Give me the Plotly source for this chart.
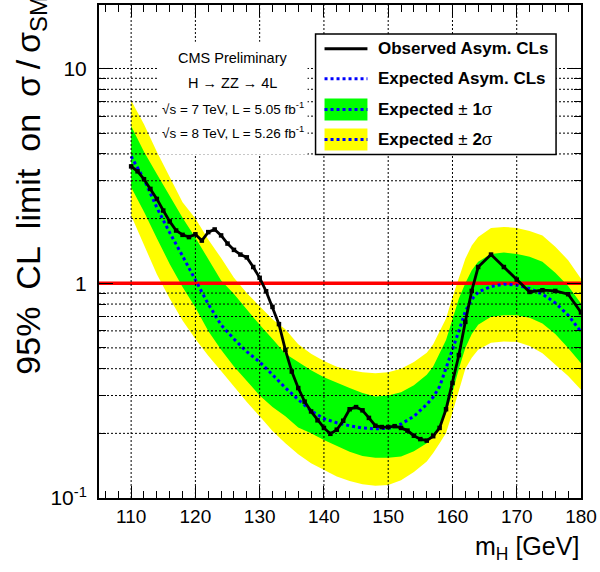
import plotly.graph_objects as go

# ---------------------------------------------------------------- data
# Higgs mass points (GeV) for the observed limit
mass_obs = [110, 111, 112, 113, 114, 115, 116, 117, 118, 119, 120, 121, 122, 123,
            124, 125, 126, 127, 128, 129, 130, 131, 132, 133, 134, 135, 136, 137,
            138, 139, 140, 141, 142, 143, 144, 145, 146, 147, 148, 149, 150, 151,
            152, 153, 154, 155, 156, 157, 158, 159, 160, 161, 162, 163, 164, 166,
            168, 170, 172, 174, 176, 178, 180]
observed = [3.50, 3.32, 3.05, 2.75, 2.47, 2.18, 1.94, 1.76, 1.68, 1.64, 1.69, 1.58,
            1.73, 1.78, 1.67, 1.53, 1.43, 1.36, 1.32, 1.19, 1.06, 0.918, 0.776,
            0.645, 0.489, 0.388, 0.325, 0.281, 0.253, 0.230, 0.212, 0.199, 0.208,
            0.229, 0.259, 0.265, 0.256, 0.236, 0.217, 0.214, 0.214, 0.216, 0.212,
            0.206, 0.195, 0.188, 0.185, 0.194, 0.212, 0.259, 0.343, 0.463, 0.661,
            0.921, 1.19, 1.36, 1.19, 1.04, 0.911, 0.928, 0.921, 0.889, 0.731]

# Mass points for the expected limit and its bands
mass_exp = [110, 112, 114, 116, 118, 120, 122, 124, 126, 128, 130, 132, 134, 136,
            138, 140, 142, 144, 146, 148, 150, 152, 154, 156, 157, 158, 159, 160,
            161, 162, 163, 164, 166, 168, 170, 172, 174, 176, 178, 180]
expected = [3.90, 3.05, 2.25, 1.72, 1.34, 1.03, 0.80, 0.64, 0.55, 0.48, 0.43, 0.375,
            0.326, 0.287, 0.255, 0.234, 0.224, 0.217, 0.212, 0.210, 0.211, 0.221,
            0.240, 0.273, 0.295, 0.33, 0.40, 0.49, 0.60, 0.74, 0.84, 0.91, 0.965,
            0.99, 0.98, 0.945, 0.89, 0.81, 0.71, 0.594]
exp_p1 = [5.40, 4.10, 3.23, 2.55, 2.02, 1.63, 1.30, 1.03, 0.89, 0.75, 0.64, 0.55,
          0.47, 0.43, 0.393, 0.365, 0.343, 0.325, 0.308, 0.297, 0.300, 0.311,
          0.335, 0.375, 0.41, 0.47, 0.544, 0.68, 0.85, 1.00, 1.15, 1.26, 1.37,
          1.39, 1.37, 1.33, 1.26, 1.12, 0.97, 0.805]
exp_m1 = [2.80, 2.15, 1.62, 1.23, 0.96, 0.77, 0.60, 0.49, 0.41, 0.35, 0.30, 0.265,
          0.24, 0.213, 0.200, 0.186, 0.174, 0.164, 0.157, 0.154, 0.154, 0.156,
          0.165, 0.180, 0.195, 0.215, 0.249, 0.31, 0.40, 0.50, 0.58, 0.64, 0.698,
          0.71, 0.71, 0.69, 0.65, 0.58, 0.50, 0.424]
exp_p2 = [7.10, 5.50, 4.10, 3.10, 2.38, 2.00, 1.60, 1.31, 1.06, 0.90, 0.78, 0.68,
          0.61, 0.52, 0.47, 0.435, 0.409, 0.395, 0.385, 0.381, 0.385, 0.400,
          0.43, 0.475, 0.52, 0.60, 0.686, 0.86, 1.07, 1.30, 1.50, 1.64, 1.81,
          1.83, 1.81, 1.75, 1.67, 1.48, 1.28, 1.05]
exp_m2 = [2.07, 1.50, 1.10, 0.85, 0.67, 0.55, 0.46, 0.39, 0.33, 0.28, 0.24, 0.205,
          0.18, 0.16, 0.145, 0.135, 0.126, 0.120, 0.116, 0.114, 0.115, 0.121,
          0.132, 0.148, 0.162, 0.180, 0.201, 0.25, 0.32, 0.40, 0.45, 0.49, 0.528,
          0.535, 0.534, 0.51, 0.472, 0.42, 0.37, 0.319]

sm_level = 1.0                      # sigma / sigma_SM = 1
x_range = [105, 180]
y_log_range = [-1, 1.2956]
x_ticks = [110, 120, 130, 140, 150, 160, 170, 180]
y_ticks = [0.1, 1, 10]
y_tick_text = ["10<sup>-1</sup>", "1", "10"]
y_minor = [0.2, 0.3, 0.4, 0.5, 0.6, 0.7, 0.8, 0.9,
           2, 3, 4, 5, 6, 7, 8, 9, 20]
x_grid = [110, 120, 130, 140, 150, 160, 170]
y_grid = [0.2, 0.3, 0.4, 0.5, 0.6, 0.7, 0.8, 0.9, 2, 3, 4, 5, 6, 7, 8, 9, 10]

legend_labels = ["<b>Observed Asym. CLs</b>", "<b>Expected Asym. CLs</b>",
                 "<b>Expected</b> ± <b>1</b>σ", "<b>Expected</b> ± <b>2</b>σ"]
info_lines = ["CMS Preliminary", "H → ZZ → 4L",
              "√s = 7 TeV, L = 5.05 fb<sup>-1</sup>",
              "√s = 8 TeV, L = 5.26 fb<sup>-1</sup>"]
EN = "\u2002"
TH = "\u2009"
y_title = ("95%" + EN + "CL" + EN + "limit" + EN + "on" + EN
           + "σ" + TH + "/" + TH + "σ<sub>SM</sub>")
x_title = "m<sub>H</sub> [GeV]"

# ---------------------------------------------------------------- styling
W, H = 600, 572
ML, MR, MT, MB = 99, 18, 3, 74
PW, PH = W - ML - MR, H - MT - MB
FONT = "Liberation Sans, Arial, Helvetica, sans-serif"
YELLOW, GREEN, BLUE = "#FFFF00", "#00FF00", "#0000FF"


def px(xp):
    return (xp - ML) / PW


def py(yp):
    return (MT + PH - yp) / PH


fig = go.Figure()

# +-2 sigma band
fig.add_trace(go.Scatter(x=mass_exp, y=exp_m2, mode="lines", line=dict(width=0),
                         showlegend=False, hoverinfo="skip"))
fig.add_trace(go.Scatter(x=mass_exp, y=exp_p2, mode="lines", line=dict(width=0),
                         fill="tonexty", fillcolor=YELLOW, showlegend=False))
# +-1 sigma band
fig.add_trace(go.Scatter(x=mass_exp, y=exp_m1, mode="lines", line=dict(width=0),
                         showlegend=False, hoverinfo="skip"))
fig.add_trace(go.Scatter(x=mass_exp, y=exp_p1, mode="lines", line=dict(width=0),
                         fill="tonexty", fillcolor=GREEN, showlegend=False))
# SM reference line
fig.add_trace(go.Scatter(x=x_range, y=[sm_level, sm_level], mode="lines",
                         line=dict(color="#FF0000", width=3.5), showlegend=False))
# expected median
fig.add_trace(go.Scatter(x=mass_exp, y=expected, mode="lines",
                         line=dict(color=BLUE, width=3, dash="dot"),
                         showlegend=False))
# observed
fig.add_trace(go.Scatter(x=mass_obs, y=observed, mode="lines+markers",
                         line=dict(color="black", width=2.8),
                         marker=dict(symbol="square", size=4.5, color="black"),
                         showlegend=False))

shapes = []
# dotted grid drawn over the bands
for xv in x_grid:
    shapes.append(dict(type="line", layer="above", xref="x", yref="y domain",
                       x0=xv, x1=xv, y0=0, y1=1,
                       line=dict(color="black", width=1, dash="2px,2px")))
for yv in y_grid:
    shapes.append(dict(type="line", layer="above", xref="x domain", yref="y",
                       x0=0, x1=1, y0=yv, y1=yv,
                       line=dict(color="black", width=1, dash="2px,2px")))

# white pad behind the info text
shapes.append(dict(type="rect", layer="above", xref="paper", yref="paper",
                   x0=px(158), x1=px(308), y0=py(153), y1=py(40),
                   fillcolor="white", line=dict(width=0)))

# legend box
shapes.append(dict(type="rect", layer="above", xref="paper", yref="paper",
                   x0=px(316), x1=px(557), y0=py(153), y1=py(32),
                   fillcolor="white", line=dict(color="black", width=1.5)))
row_y = [47, 77, 108, 138]
sx0, sx1 = 325, 368
shapes.append(dict(type="line", layer="above", xref="paper", yref="paper",
                   x0=px(sx0), x1=px(sx1), y0=py(row_y[0]), y1=py(row_y[0]),
                   line=dict(color="black", width=3)))
shapes.append(dict(type="line", layer="above", xref="paper", yref="paper",
                   x0=px(sx0), x1=px(sx1), y0=py(row_y[1]), y1=py(row_y[1]),
                   line=dict(color=BLUE, width=3, dash="dot")))
for ry, col in ((row_y[2], GREEN), (row_y[3], YELLOW)):
    shapes.append(dict(type="rect", layer="above", xref="paper", yref="paper",
                       x0=px(sx0), x1=px(sx1), y0=py(ry + 11), y1=py(ry - 11),
                       fillcolor=col, line=dict(width=0)))
    shapes.append(dict(type="line", layer="above", xref="paper", yref="paper",
                       x0=px(sx0), x1=px(sx1), y0=py(ry), y1=py(ry),
                       line=dict(color=BLUE, width=3, dash="dot")))

annotations = []
for lab, ry in zip(legend_labels, row_y):
    annotations.append(dict(text=lab, xref="paper", yref="paper",
                            x=px(377), y=py(ry), xanchor="left", yanchor="middle",
                            showarrow=False,
                            font=dict(family=FONT, size=17, color="black")))
info_y = [56, 81, 106, 131]
info_size = [14.5, 14.5, 13.5, 13.5]
for txt, ry, fs in zip(info_lines, info_y, info_size):
    annotations.append(dict(text=txt, xref="paper", yref="paper",
                            x=px(233), y=py(ry), xanchor="center", yanchor="middle",
                            showarrow=False,
                            font=dict(family=FONT, size=fs, color="black")))
# axis titles
annotations.append(dict(text=y_title, xref="paper", yref="paper",
                        x=px(30), y=py(-8), xanchor="center",
                        yanchor="top", textangle=-90, showarrow=False,
                        font=dict(family=FONT, size=34, color="black")))
annotations.append(dict(text=x_title, xref="paper", yref="paper",
                        x=px(582), y=py(548), xanchor="right", yanchor="middle",
                        showarrow=False,
                        font=dict(family=FONT, size=25, color="black")))

fig.update_layout(
    width=W, height=H,
    margin=dict(l=ML, r=MR, t=MT, b=MB),
    paper_bgcolor="white", plot_bgcolor="white",
    showlegend=False,
    shapes=shapes, annotations=annotations,
    xaxis=dict(range=x_range, tickmode="array", tickvals=x_ticks,
               ticks="inside", ticklen=12, tickwidth=1, tickcolor="black",
               showline=True, linecolor="black", linewidth=2, mirror="allticks",
               showgrid=False, zeroline=False, layer="above traces",
               ticklabelstandoff=0,
               tickfont=dict(family=FONT, size=19, color="black"),
               minor=dict(dtick=2, tick0=0, ticks="inside", ticklen=7,
                          tickcolor="black", showgrid=False)),
    yaxis=dict(type="log", range=y_log_range, tickmode="array", tickvals=y_ticks,
               ticktext=y_tick_text,
               ticks="inside", ticklen=14, tickwidth=1, tickcolor="black",
               showline=True, linecolor="black", linewidth=2, mirror="allticks",
               showgrid=False, zeroline=False, layer="above traces",
               ticklabelstandoff=6,
               tickfont=dict(family=FONT, size=21, color="black"),
               minor=dict(tickmode="array", tickvals=y_minor, ticks="inside",
                          ticklen=7, tickcolor="black", showgrid=False)),
)

fig.write_html("out.html")
